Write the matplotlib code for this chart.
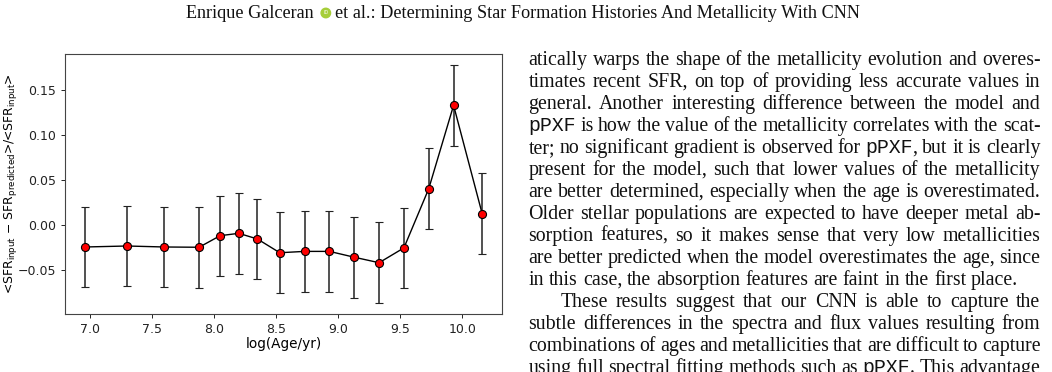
import matplotlib
matplotlib.use("Agg")
import matplotlib.pyplot as plt
from matplotlib.patches import Ellipse

# Data
log_age = [6.96, 7.30, 7.60, 7.88, 8.05, 8.20, 8.35, 8.53, 8.73, 8.93,
           9.13, 9.33, 9.53, 9.73, 9.93, 10.16]
sfr_diff = [-0.0249, -0.0238, -0.0249, -0.0252, -0.0123, -0.0097, -0.0160,
            -0.0313, -0.0298, -0.0298, -0.0363, -0.0424, -0.0259, 0.0400,
            0.1328, 0.0123]
sfr_err = [0.045, 0.045, 0.045, 0.045, 0.0447, 0.045, 0.0449, 0.0448,
           0.045, 0.045, 0.0452, 0.045, 0.0449, 0.0449, 0.045, 0.0449]

header_left = "Enrique Galceran"
header_right = "et al.: Determining Star Formation Histories And Metallicity With CNN"

body_lines = [
    "atically warps the shape of the metallicity evolution and overes-",
    "timates recent SFR, on top of providing less accurate values in",
    "general. Another interesting difference between the model and",
    "pPXF is how the value of the metallicity correlates with the scat-",
    "ter; no significant gradient is observed for pPXF, but it is clearly",
    "present for the model, such that lower values of the metallicity",
    "are better determined, especially when the age is overestimated.",
    "Older stellar populations are expected to have deeper metal ab-",
    "sorption features, so it makes sense that very low metallicities",
    "are better predicted when the model overestimates the age, since",
    "in this case, the absorption features are faint in the first place.",
    "These results suggest that our CNN is able to capture the",
    "subtle differences in the spectra and flux values resulting from",
    "combinations of ages and metallicities that are difficult to capture",
    "using full spectral fitting methods such as pPXF. This advantage",
]
para_end = [10]      # lines that are not justified
para_start = [11]    # indented lines

W, H = 1052, 372
SERIF = "Liberation Serif"
MONO = "Liberation Mono"
INK = "#111111"

fig = plt.figure(figsize=(W / 100, H / 100), dpi=100)
renderer = fig.canvas.get_renderer()

# ---- the chart ----
ax = fig.add_axes([65 / W, 1 - 314 / H, 437 / W, 260.5 / H])
ax.errorbar(log_age, sfr_diff, yerr=sfr_err, color="black", lw=1.0,
            marker="o", ms=5.8, mfc="red", mec="black", mew=0.8,
            ecolor="#222222", elinewidth=1.1, capsize=2.6, capthick=1.0)
ax.set_ylim(-0.0995, 0.1905)
for s in ax.spines.values():
    s.set_color("#444444")
    s.set_linewidth(0.8)
ax.tick_params(labelsize=9.0, colors="#222222", length=3, width=0.7)
ax.set_xlabel("log(Age/yr)", fontsize=9.8, labelpad=1.0)
ax.set_ylabel(r"<SFR$_{\rm input}$ $-$ SFR$_{\rm predicted}$>/<SFR$_{\rm input}$>",
              fontsize=8.9)
ax.yaxis.set_label_coords(-0.105, 0.5)


# ---- text helpers ----
def make_word(word, fs):
    parts = []
    if "pPXF" in word:
        i = word.index("pPXF")
        if word[:i]:
            parts.append((word[:i], SERIF))
        parts.append(("pPXF", MONO))
        if word[i + 4:]:
            parts.append((word[i + 4:], SERIF))
    else:
        parts.append((word, SERIF))
    arts = []
    for s, fam in parts:
        t = fig.text(0, 0, s, family=fam, fontsize=fs, va="baseline",
                     ha="left", color=INK)
        arts.append((t, t.get_window_extent(renderer).width))
    return arts


def space_width(fs):
    a = fig.text(0, 0, "x x", family=SERIF, fontsize=fs)
    b = fig.text(0, 0, "xx", family=SERIF, fontsize=fs)
    w = a.get_window_extent(renderer).width - b.get_window_extent(renderer).width
    a.remove()
    b.remove()
    return w


def natural_width(line, fs):
    items = [make_word(w, fs) for w in line.split()]
    total = sum(w for it in items for _, w in it)
    for it in items:
        for t, _ in it:
            t.remove()
    return total + space_width(fs) * (len(items) - 1)


def place_line(line, x0, x1, ybase, justify, fs):
    words = line.split()
    items = [make_word(w, fs) for w in words]
    widths = [sum(w for _, w in it) for it in items]
    if justify and len(words) > 1:
        gap = (x1 - x0 - sum(widths)) / (len(words) - 1)
    else:
        gap = space_width(fs)
    x = x0
    for it, wsum in zip(items, widths):
        xx = x
        for t, w in it:
            t.set_position((xx / W, 1 - ybase / H))
            xx += w
        x += wsum + gap


# ---- body text, right column ----
fs_body = 10 * 487.5 / natural_width(body_lines[10], 10)
left, right = 528.5, 1040.5
first_base, pitch = 65.0, 22.0
for i, line in enumerate(body_lines):
    x0 = left + (32 if i in para_start else 0)
    place_line(line, x0, right, first_base + i * pitch, i not in para_end, fs_body)

# ---- running header ----
icon_w, gap1, gap2 = 9.5, 7.0, 4.0
fs_head = 10 * 685 / (natural_width(header_left, 10) + natural_width(header_right, 10)
                      + icon_w + gap1 + gap2)
hl = fig.text(0, 0, header_left, family=SERIF, fontsize=fs_head, va="baseline", color=INK)
hr = fig.text(0, 0, header_right, family=SERIF, fontsize=fs_head, va="baseline", color=INK)
wl = hl.get_window_extent(renderer).width
wr = hr.get_window_extent(renderer).width
total = wl + gap1 + icon_w + gap2 + wr
hx = W / 2 - total / 2 - 3
hy = 18.0
hl.set_position((hx / W, 1 - hy / H))
cx = hx + wl + gap1 + icon_w / 2
cy = hy - 5.0
fig.patches.append(Ellipse((cx / W, 1 - cy / H), icon_w / W, icon_w / H,
                           transform=fig.transFigure, color="#A6CE39", zorder=5))
fig.text(cx / W, 1 - cy / H, "iD", fontsize=3.5, color="white", ha="center",
         va="center", zorder=6)
hr.set_position(((hx + wl + gap1 + icon_w + gap2) / W, 1 - hy / H))

fig.savefig("out.png", dpi=100)
